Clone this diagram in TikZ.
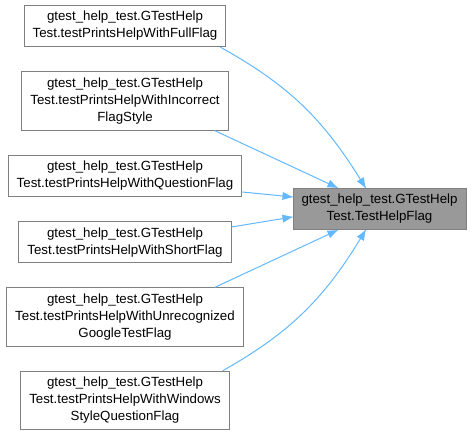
\documentclass[tikz,border=0pt]{standalone}
\usepackage{fontspec}
\setmainfont{Liberation Sans}
\usepackage{xcolor}
\usepackage{tikz}
\usetikzlibrary{arrows.meta,positioning,decorations.markings}

\definecolor{edgeblue}{HTML}{63B8FF}
\definecolor{boxline}{HTML}{808080}
\definecolor{hilite}{HTML}{999999}

\begin{document}
\begin{tikzpicture}[
  fn/.style={draw=boxline, fill=white, line width=1pt, align=center,
    font=\fontsize{13.3}{17}\selectfont, inner xsep=8.5pt, inner ysep=6pt},
  call/.style={draw=edgeblue, line width=1pt, postaction={decorate},
    decoration={markings, mark=at position 1 with
      {\fill[edgeblue] (0pt,0pt) -- (-10pt,4pt) -- (-10pt,-4pt) -- cycle;}}}
]
\useasboundingbox (0pt,0pt) rectangle (472pt,435pt);
\node[fn] (full) at (125pt,409pt) {gtest\_help\_test.GTestHelp\\Test.testPrintsHelpWithFullFlag};
\node[fn, below=24pt of full] (incorrect) {gtest\_help\_test.GTestHelp\\Test.testPrintsHelpWithIncorrect\\FlagStyle};
\node[fn, below=24pt of incorrect] (question) {gtest\_help\_test.GTestHelp\\Test.testPrintsHelpWithQuestionFlag};
\node[fn, below=24pt of question] (short) {gtest\_help\_test.GTestHelp\\Test.testPrintsHelpWithShortFlag};
\node[fn, below=24pt of short] (unrec) {gtest\_help\_test.GTestHelp\\Test.testPrintsHelpWithUnrecognized\\GoogleTestFlag};
\node[fn, below=24pt of unrec] (windows) {gtest\_help\_test.GTestHelp\\Test.testPrintsHelpWithWindows\\StyleQuestionFlag};
\node[fn, fill=hilite] (helpflag) at (379.5pt,226pt) {gtest\_help\_test.GTestHelp\\Test.TestHelpFlag};
% callers -> TestHelpFlag
\draw[call] ([xshift=-6pt]full.south east) to[bend left=15] ([xshift=-14pt]helpflag.north);
\draw[call] ([xshift=-14pt]incorrect.south east) -- ([xshift=-42pt]helpflag.north);
\draw[call] ([yshift=5pt]question.south east) -- ([yshift=12pt]helpflag.west);
\draw[call] ([yshift=-6pt]short.north east) -- ([yshift=-8pt]helpflag.west);
\draw[call] ([xshift=-29pt]unrec.north east) -- ([xshift=-42pt]helpflag.south);
\draw[call] ([xshift=-7pt]windows.north east) to[bend right=15] ([xshift=-14pt]helpflag.south);
\end{tikzpicture}
\end{document}
